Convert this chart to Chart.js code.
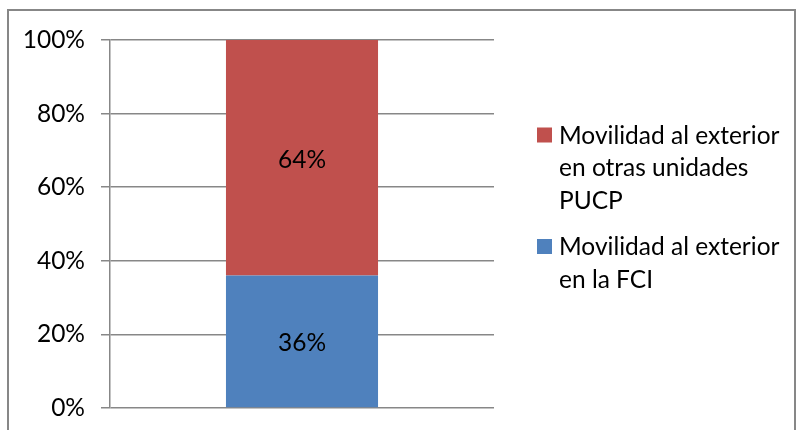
<!DOCTYPE html>
<html>
<head>
<meta charset="utf-8">
<script src="https://cdn.jsdelivr.net/npm/chart.js@4"></script>
<style>
  html, body { margin: 0; padding: 0; background: #fff; }
  canvas { display: block; }
</style>
</head>
<body>
<canvas id="barChart" width="798" height="430"></canvas>
<script>
const categories = [''];
const fciLabel = ['Movilidad al exterior', 'en la FCI'];
const otherLabel = ['Movilidad al exterior', 'en otras unidades', 'PUCP'];
const fciValues = [36];
const otherValues = [64];
const yTickLabels = ['0%', '20%', '40%', '60%', '80%', '100%'];

const FONT = 'Lato, "Open Sans", sans-serif';
const FSIZE = 24.5;
const GRID = '#878787';

// outer frame like the Excel chart area
const framePlugin = {
  id: 'frame',
  beforeDraw(chart) {
    const ctx = chart.ctx;
    ctx.save();
    ctx.strokeStyle = GRID;
    ctx.lineWidth = 2;
    ctx.strokeRect(8, 10, 787, 440);
    ctx.restore();
  }
};

// percentage labels in the middle of each segment
const valueLabels = {
  id: 'valueLabels',
  afterDatasetsDraw(chart) {
    const ctx = chart.ctx;
    ctx.save();
    ctx.font = FSIZE + 'px ' + FONT;
    ctx.fillStyle = '#000';
    ctx.textAlign = 'center';
    ctx.textBaseline = 'middle';
    chart.data.datasets.forEach((ds, i) => {
      chart.getDatasetMeta(i).data.forEach((bar, j) => {
        ctx.fillText(ds.data[j] + '%', bar.x, (bar.y + bar.base) / 2 + 2);
      });
    });
    ctx.restore();
  }
};

// legend on the right, with wrapped lines
const sideLegend = {
  id: 'sideLegend',
  afterDraw(chart) {
    const ctx = chart.ctx;
    const x = 537;
    let y = 135;
    const lineH = 32.5;
    ctx.save();
    ctx.font = FSIZE + 'px ' + FONT;
    ctx.textBaseline = 'middle';
    const items = chart.data.datasets.slice().reverse();
    items.forEach(ds => {
      ctx.fillStyle = ds.backgroundColor;
      ctx.fillRect(x, y - 7.5, 15, 15);
      ctx.fillStyle = '#000';
      ds.label.forEach((line, k) => {
        ctx.fillText(line, x + 22, y + 1 + k * lineH);
      });
      y += ds.label.length * lineH + 14;
    });
    ctx.restore();
  }
};

new Chart(document.getElementById('barChart'), {
  type: 'bar',
  data: {
    labels: categories,
    datasets: [{
      label: fciLabel,
      data: fciValues,
      backgroundColor: '#4F81BD',
      barPercentage: 1,
      categoryPercentage: 0.396
    }, {
      label: otherLabel,
      data: otherValues,
      backgroundColor: '#C0504D',
      barPercentage: 1,
      categoryPercentage: 0.396
    }]
  },
  options: {
    responsive: false,
    animation: false,
    layout: { padding: { left: 0, top: 40, right: 304, bottom: 22 } },
    plugins: {
      legend: { display: false },
      tooltip: { enabled: false }
    },
    scales: {
      x: {
        stacked: true,
        display: false
      },
      y: {
        stacked: true,
        min: 0,
        max: 100,
        afterFit(scale) {
          scale.width = 110;
          scale.paddingTop = 0;
          scale.paddingBottom = 0;
        },
        ticks: {
          stepSize: 20,
          padding: 16,
          color: '#000',
          font: { family: FONT, size: FSIZE },
          callback: (v, i) => yTickLabels[i]
        },
        grid: {
          color: GRID,
          lineWidth: 1.5,
          tickLength: 9
        },
        border: { color: GRID, width: 1.5 }
      }
    }
  },
  plugins: [framePlugin, valueLabels, sideLegend]
});
</script>
</body>
</html>
